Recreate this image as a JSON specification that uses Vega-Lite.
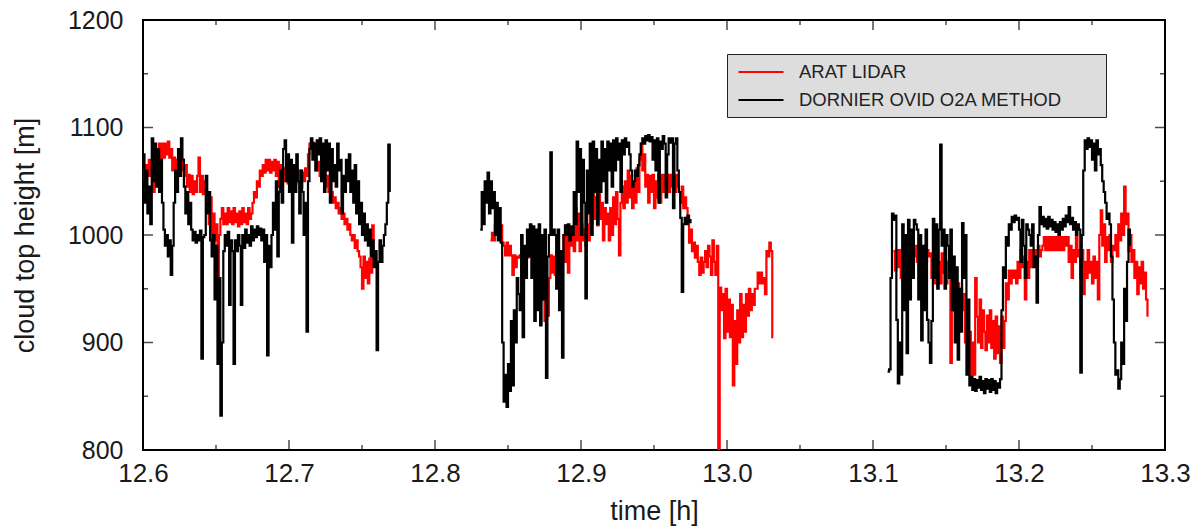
{
"$schema":"https://vega.github.io/schema/vega-lite/v6.json",
"width":1022,"height":430,"autosize":"none",
"padding":{"left":143,"top":20,"right":29,"bottom":77},
"background":"white",
"config":{"view":{"stroke":"#000","strokeWidth":2},"font":"Liberation Sans",
"axis":{"labelFont":"Liberation Sans","titleFont":"Liberation Sans","labelColor":"#1a1a1a","titleColor":"#1a1a1a","titleFontWeight":"normal","domain":false,"ticks":false,"grid":false,"labelFlush":false,"labelOverlap":false},
"axisX":{"labelFontSize":26,"labelPadding":10,"titleFontSize":27,"titlePadding":12},
"axisY":{"labelFontSize":25,"labelPadding":20,"titleFontSize":27,"titlePadding":28}},
"datasets":{
"red":[
{"t":12.600,"h":1060,"g":1},{"t":12.601,"h":1050,"g":1},{"t":12.602,"h":1065,"g":1},{"t":12.603,"h":1055,"g":1},{"t":12.604,"h":1070,"g":1},{"t":12.605,"h":1055,"g":1},{"t":12.606,"h":1065,"g":1},{"t":12.607,"h":1040,"g":1},{"t":12.608,"h":1060,"g":1},{"t":12.609,"h":1055,"g":1},{"t":12.610,"h":1075,"g":1},{"t":12.611,"h":1085,"g":1},{"t":12.612,"h":1070,"g":1},{"t":12.613,"h":1085,"g":1},{"t":12.614,"h":1072,"g":1},{"t":12.615,"h":1085,"g":1},{"t":12.616,"h":1075,"g":1},{"t":12.617,"h":1087,"g":1},{"t":12.618,"h":1072,"g":1},{"t":12.619,"h":1080,"g":1},{"t":12.620,"h":1060,"g":1},{"t":12.621,"h":1072,"g":1},{"t":12.622,"h":1056,"g":1},{"t":12.623,"h":1070,"g":1},{"t":12.624,"h":1058,"g":1},{"t":12.625,"h":1072,"g":1},{"t":12.626,"h":1060,"g":1},{"t":12.627,"h":1070,"g":1},{"t":12.628,"h":1055,"g":1},{"t":12.629,"h":1065,"g":1},{"t":12.630,"h":1045,"g":1},{"t":12.631,"h":1056,"g":1},{"t":12.632,"h":1040,"g":1},{"t":12.633,"h":1055,"g":1},{"t":12.634,"h":1038,"g":1},{"t":12.635,"h":1050,"g":1},{"t":12.636,"h":1040,"g":1},{"t":12.637,"h":1055,"g":1},{"t":12.638,"h":1072,"g":1},{"t":12.639,"h":1040,"g":1},{"t":12.640,"h":1055,"g":1},{"t":12.641,"h":1038,"g":1},{"t":12.642,"h":1050,"g":1},{"t":12.643,"h":1040,"g":1},{"t":12.644,"h":1030,"g":1},{"t":12.645,"h":1010,"g":1},{"t":12.646,"h":1035,"g":1},{"t":12.647,"h":995,"g":1},{"t":12.648,"h":1020,"g":1},{"t":12.649,"h":995,"g":1},{"t":12.650,"h":1010,"g":1},{"t":12.651,"h":950,"g":1},{"t":12.652,"h":1000,"g":1},{"t":12.653,"h":1015,"g":1},{"t":12.654,"h":1025,"g":1},{"t":12.655,"h":1010,"g":1},{"t":12.656,"h":1020,"g":1},{"t":12.657,"h":1010,"g":1},{"t":12.658,"h":1025,"g":1},{"t":12.659,"h":1012,"g":1},{"t":12.660,"h":1022,"g":1},{"t":12.661,"h":1010,"g":1},{"t":12.662,"h":1025,"g":1},{"t":12.663,"h":1012,"g":1},{"t":12.664,"h":1020,"g":1},{"t":12.665,"h":1008,"g":1},{"t":12.666,"h":1022,"g":1},{"t":12.667,"h":1010,"g":1},{"t":12.668,"h":1025,"g":1},{"t":12.669,"h":1012,"g":1},{"t":12.670,"h":1020,"g":1},{"t":12.671,"h":1010,"g":1},{"t":12.672,"h":1025,"g":1},{"t":12.673,"h":1015,"g":1},{"t":12.674,"h":1020,"g":1},{"t":12.675,"h":1030,"g":1},{"t":12.676,"h":1040,"g":1},{"t":12.677,"h":1035,"g":1},{"t":12.678,"h":1050,"g":1},{"t":12.679,"h":1045,"g":1},{"t":12.680,"h":1060,"g":1},{"t":12.681,"h":1055,"g":1},{"t":12.682,"h":1065,"g":1},{"t":12.683,"h":1058,"g":1},{"t":12.684,"h":1070,"g":1},{"t":12.685,"h":1060,"g":1},{"t":12.686,"h":1070,"g":1},{"t":12.687,"h":1058,"g":1},{"t":12.688,"h":1068,"g":1},{"t":12.689,"h":1060,"g":1},{"t":12.690,"h":1070,"g":1},{"t":12.691,"h":1055,"g":1},{"t":12.692,"h":1068,"g":1},{"t":12.693,"h":1045,"g":1},{"t":12.694,"h":1065,"g":1},{"t":12.695,"h":1055,"g":1},{"t":12.696,"h":1062,"g":1},{"t":12.697,"h":1050,"g":1},{"t":12.698,"h":1060,"g":1},{"t":12.699,"h":1048,"g":1},{"t":12.700,"h":1062,"g":1},{"t":12.701,"h":1055,"g":1},{"t":12.702,"h":1050,"g":1},{"t":12.703,"h":1062,"g":1},{"t":12.704,"h":1048,"g":1},{"t":12.705,"h":1060,"g":1},{"t":12.706,"h":1052,"g":1},{"t":12.707,"h":1060,"g":1},{"t":12.708,"h":1045,"g":1},{"t":12.709,"h":1058,"g":1},{"t":12.710,"h":1050,"g":1},{"t":12.711,"h":1062,"g":1},{"t":12.712,"h":1055,"g":1},{"t":12.713,"h":1075,"g":1},{"t":12.714,"h":1085,"g":1},{"t":12.715,"h":1080,"g":1},{"t":12.716,"h":1086,"g":1},{"t":12.717,"h":1075,"g":1},{"t":12.718,"h":1070,"g":1},{"t":12.719,"h":1060,"g":1},{"t":12.720,"h":1068,"g":1},{"t":12.721,"h":1055,"g":1},{"t":12.722,"h":1065,"g":1},{"t":12.723,"h":1050,"g":1},{"t":12.724,"h":1060,"g":1},{"t":12.725,"h":1045,"g":1},{"t":12.726,"h":1055,"g":1},{"t":12.727,"h":1040,"g":1},{"t":12.728,"h":1048,"g":1},{"t":12.729,"h":1040,"g":1},{"t":12.730,"h":1030,"g":1},{"t":12.731,"h":1035,"g":1},{"t":12.732,"h":1025,"g":1},{"t":12.733,"h":1030,"g":1},{"t":12.734,"h":1020,"g":1},{"t":12.735,"h":1025,"g":1},{"t":12.736,"h":1015,"g":1},{"t":12.737,"h":1020,"g":1},{"t":12.738,"h":1010,"g":1},{"t":12.739,"h":1015,"g":1},{"t":12.740,"h":1005,"g":1},{"t":12.741,"h":1010,"g":1},{"t":12.742,"h":1000,"g":1},{"t":12.743,"h":995,"g":1},{"t":12.744,"h":1000,"g":1},{"t":12.745,"h":988,"g":1},{"t":12.746,"h":995,"g":1},{"t":12.747,"h":985,"g":1},{"t":12.748,"h":980,"g":1},{"t":12.749,"h":970,"g":1},{"t":12.750,"h":950,"g":1},{"t":12.751,"h":980,"g":1},{"t":12.752,"h":960,"g":1},{"t":12.753,"h":975,"g":1},{"t":12.754,"h":955,"g":1},{"t":12.755,"h":978,"g":1},{"t":12.756,"h":965,"g":1},{"t":12.757,"h":1009,"g":1},{"t":12.758,"h":975,"g":1},
{"t":12.838,"h":995,"g":2},{"t":12.839,"h":1002,"g":2},{"t":12.840,"h":995,"g":2},{"t":12.841,"h":1009,"g":2},{"t":12.842,"h":1000,"g":2},{"t":12.843,"h":1009,"g":2},{"t":12.844,"h":1002,"g":2},{"t":12.845,"h":1009,"g":2},{"t":12.846,"h":993,"g":2},{"t":12.847,"h":990,"g":2},{"t":12.848,"h":981,"g":2},{"t":12.849,"h":993,"g":2},{"t":12.850,"h":981,"g":2},{"t":12.851,"h":990,"g":2},{"t":12.852,"h":981,"g":2},{"t":12.853,"h":963,"g":2},{"t":12.854,"h":981,"g":2},{"t":12.855,"h":970,"g":2},{"t":12.856,"h":980,"g":2},{"t":12.857,"h":979,"g":2},{"t":12.858,"h":981,"g":2},{"t":12.859,"h":979,"g":2},{"t":12.860,"h":981,"g":2},{"t":12.861,"h":979,"g":2},{"t":12.862,"h":981,"g":2},{"t":12.863,"h":979,"g":2},{"t":12.864,"h":985,"g":2},{"t":12.865,"h":993,"g":2},{"t":12.866,"h":990,"g":2},{"t":12.867,"h":993,"g":2},{"t":12.868,"h":980,"g":2},{"t":12.869,"h":993,"g":2},{"t":12.870,"h":985,"g":2},{"t":12.871,"h":990,"g":2},{"t":12.872,"h":960,"g":2},{"t":12.873,"h":940,"g":2},{"t":12.874,"h":953,"g":2},{"t":12.875,"h":920,"g":2},{"t":12.876,"h":950,"g":2},{"t":12.877,"h":925,"g":2},{"t":12.878,"h":960,"g":2},{"t":12.879,"h":981,"g":2},{"t":12.880,"h":965,"g":2},{"t":12.881,"h":980,"g":2},{"t":12.882,"h":963,"g":2},{"t":12.883,"h":981,"g":2},{"t":12.884,"h":970,"g":2},{"t":12.885,"h":981,"g":2},{"t":12.886,"h":965,"g":2},{"t":12.887,"h":980,"g":2},{"t":12.888,"h":1000,"g":2},{"t":12.889,"h":975,"g":2},{"t":12.890,"h":1009,"g":2},{"t":12.891,"h":965,"g":2},{"t":12.892,"h":1005,"g":2},{"t":12.893,"h":990,"g":2},{"t":12.894,"h":1000,"g":2},{"t":12.895,"h":985,"g":2},{"t":12.896,"h":1025,"g":2},{"t":12.897,"h":995,"g":2},{"t":12.898,"h":1020,"g":2},{"t":12.899,"h":985,"g":2},{"t":12.900,"h":1010,"g":2},{"t":12.901,"h":995,"g":2},{"t":12.902,"h":1005,"g":2},{"t":12.903,"h":990,"g":2},{"t":12.904,"h":1010,"g":2},{"t":12.905,"h":995,"g":2},{"t":12.906,"h":1030,"g":2},{"t":12.907,"h":1010,"g":2},{"t":12.908,"h":1040,"g":2},{"t":12.909,"h":1015,"g":2},{"t":12.910,"h":1035,"g":2},{"t":12.911,"h":1009,"g":2},{"t":12.912,"h":1040,"g":2},{"t":12.913,"h":1015,"g":2},{"t":12.914,"h":1030,"g":2},{"t":12.915,"h":995,"g":2},{"t":12.916,"h":1025,"g":2},{"t":12.917,"h":1010,"g":2},{"t":12.918,"h":1020,"g":2},{"t":12.919,"h":995,"g":2},{"t":12.920,"h":1025,"g":2},{"t":12.921,"h":1000,"g":2},{"t":12.922,"h":1035,"g":2},{"t":12.923,"h":1010,"g":2},{"t":12.924,"h":1040,"g":2},{"t":12.925,"h":1015,"g":2},{"t":12.926,"h":981,"g":2},{"t":12.927,"h":1030,"g":2},{"t":12.928,"h":1045,"g":2},{"t":12.929,"h":1025,"g":2},{"t":12.930,"h":1050,"g":2},{"t":12.931,"h":1030,"g":2},{"t":12.932,"h":1060,"g":2},{"t":12.933,"h":1035,"g":2},{"t":12.934,"h":1055,"g":2},{"t":12.935,"h":1025,"g":2},{"t":12.936,"h":1050,"g":2},{"t":12.937,"h":1030,"g":2},{"t":12.938,"h":1062,"g":2},{"t":12.939,"h":1040,"g":2},{"t":12.940,"h":1070,"g":2},{"t":12.941,"h":1085,"g":2},{"t":12.942,"h":1060,"g":2},{"t":12.943,"h":1075,"g":2},{"t":12.944,"h":1045,"g":2},{"t":12.945,"h":1056,"g":2},{"t":12.946,"h":1030,"g":2},{"t":12.947,"h":1055,"g":2},{"t":12.948,"h":1040,"g":2},{"t":12.949,"h":1056,"g":2},{"t":12.950,"h":1025,"g":2},{"t":12.951,"h":1050,"g":2},{"t":12.952,"h":1035,"g":2},{"t":12.953,"h":1056,"g":2},{"t":12.954,"h":1030,"g":2},{"t":12.955,"h":1056,"g":2},{"t":12.956,"h":1040,"g":2},{"t":12.957,"h":1056,"g":2},{"t":12.958,"h":1045,"g":2},{"t":12.959,"h":1056,"g":2},{"t":12.960,"h":1040,"g":2},{"t":12.961,"h":1056,"g":2},{"t":12.962,"h":1045,"g":2},{"t":12.963,"h":1056,"g":2},{"t":12.964,"h":1040,"g":2},{"t":12.965,"h":1056,"g":2},{"t":12.966,"h":1045,"g":2},{"t":12.967,"h":1040,"g":2},{"t":12.968,"h":1030,"g":2},{"t":12.969,"h":1045,"g":2},{"t":12.970,"h":1025,"g":2},{"t":12.971,"h":1035,"g":2},{"t":12.972,"h":1025,"g":2},{"t":12.973,"h":1012,"g":2},{"t":12.974,"h":993,"g":2},{"t":12.975,"h":1005,"g":2},{"t":12.976,"h":985,"g":2},{"t":12.977,"h":993,"g":2},{"t":12.978,"h":979,"g":2},{"t":12.979,"h":990,"g":2},{"t":12.980,"h":975,"g":2},{"t":12.981,"h":963,"g":2},{"t":12.982,"h":979,"g":2},{"t":12.983,"h":965,"g":2},{"t":12.984,"h":975,"g":2},{"t":12.985,"h":985,"g":2},{"t":12.986,"h":970,"g":2},{"t":12.987,"h":990,"g":2},{"t":12.988,"h":980,"g":2},{"t":12.989,"h":963,"g":2},{"t":12.990,"h":995,"g":2},{"t":12.991,"h":975,"g":2},{"t":12.992,"h":963,"g":2},{"t":12.993,"h":990,"g":2},{"t":12.994,"h":800,"g":2},{"t":12.995,"h":951,"g":2},{"t":12.996,"h":930,"g":2},{"t":12.997,"h":945,"g":2},{"t":12.998,"h":904,"g":2},{"t":12.999,"h":950,"g":2},{"t":13.000,"h":910,"g":2},{"t":13.001,"h":940,"g":2},{"t":13.002,"h":905,"g":2},{"t":13.003,"h":935,"g":2},{"t":13.004,"h":860,"g":2},{"t":13.005,"h":920,"g":2},{"t":13.006,"h":880,"g":2},{"t":13.007,"h":930,"g":2},{"t":13.008,"h":900,"g":2},{"t":13.009,"h":945,"g":2},{"t":13.010,"h":905,"g":2},{"t":13.011,"h":935,"g":2},{"t":13.012,"h":910,"g":2},{"t":13.013,"h":945,"g":2},{"t":13.014,"h":925,"g":2},{"t":13.015,"h":950,"g":2},{"t":13.016,"h":930,"g":2},{"t":13.017,"h":945,"g":2},{"t":13.018,"h":935,"g":2},{"t":13.019,"h":950,"g":2},{"t":13.020,"h":950,"g":2},{"t":13.021,"h":965,"g":2},{"t":13.022,"h":955,"g":2},{"t":13.023,"h":965,"g":2},{"t":13.024,"h":955,"g":2},{"t":13.025,"h":960,"g":2},{"t":13.026,"h":945,"g":2},{"t":13.027,"h":985,"g":2},{"t":13.028,"h":980,"g":2},{"t":13.029,"h":993,"g":2},{"t":13.030,"h":985,"g":2},{"t":13.031,"h":904,"g":2},
{"t":13.114,"h":985,"g":3},{"t":13.115,"h":967,"g":3},{"t":13.116,"h":986,"g":3},{"t":13.117,"h":970,"g":3},{"t":13.118,"h":986,"g":3},{"t":13.119,"h":960,"g":3},{"t":13.120,"h":980,"g":3},{"t":13.121,"h":955,"g":3},{"t":13.122,"h":990,"g":3},{"t":13.123,"h":970,"g":3},{"t":13.124,"h":986,"g":3},{"t":13.125,"h":995,"g":3},{"t":13.126,"h":986,"g":3},{"t":13.127,"h":993,"g":3},{"t":13.128,"h":980,"g":3},{"t":13.129,"h":990,"g":3},{"t":13.130,"h":975,"g":3},{"t":13.131,"h":990,"g":3},{"t":13.132,"h":965,"g":3},{"t":13.133,"h":986,"g":3},{"t":13.134,"h":955,"g":3},{"t":13.135,"h":990,"g":3},{"t":13.136,"h":975,"g":3},{"t":13.137,"h":986,"g":3},{"t":13.138,"h":980,"g":3},{"t":13.139,"h":983,"g":3},{"t":13.140,"h":960,"g":3},{"t":13.141,"h":980,"g":3},{"t":13.142,"h":955,"g":3},{"t":13.143,"h":983,"g":3},{"t":13.144,"h":960,"g":3},{"t":13.145,"h":975,"g":3},{"t":13.146,"h":955,"g":3},{"t":13.147,"h":983,"g":3},{"t":13.148,"h":965,"g":3},{"t":13.149,"h":980,"g":3},{"t":13.150,"h":955,"g":3},{"t":13.151,"h":975,"g":3},{"t":13.152,"h":960,"g":3},{"t":13.153,"h":881,"g":3},{"t":13.154,"h":950,"g":3},{"t":13.155,"h":930,"g":3},{"t":13.156,"h":960,"g":3},{"t":13.157,"h":925,"g":3},{"t":13.158,"h":955,"g":3},{"t":13.159,"h":940,"g":3},{"t":13.160,"h":950,"g":3},{"t":13.161,"h":930,"g":3},{"t":13.162,"h":945,"g":3},{"t":13.163,"h":900,"g":3},{"t":13.164,"h":924,"g":3},{"t":13.165,"h":880,"g":3},{"t":13.166,"h":910,"g":3},{"t":13.167,"h":865,"g":3},{"t":13.168,"h":900,"g":3},{"t":13.169,"h":870,"g":3},{"t":13.170,"h":960,"g":3},{"t":13.171,"h":924,"g":3},{"t":13.172,"h":900,"g":3},{"t":13.173,"h":940,"g":3},{"t":13.174,"h":895,"g":3},{"t":13.175,"h":930,"g":3},{"t":13.176,"h":910,"g":3},{"t":13.177,"h":893,"g":3},{"t":13.178,"h":925,"g":3},{"t":13.179,"h":900,"g":3},{"t":13.180,"h":930,"g":3},{"t":13.181,"h":895,"g":3},{"t":13.182,"h":920,"g":3},{"t":13.183,"h":885,"g":3},{"t":13.184,"h":924,"g":3},{"t":13.185,"h":890,"g":3},{"t":13.186,"h":915,"g":3},{"t":13.187,"h":881,"g":3},{"t":13.188,"h":924,"g":3},{"t":13.189,"h":895,"g":3},{"t":13.190,"h":920,"g":3},{"t":13.191,"h":955,"g":3},{"t":13.192,"h":940,"g":3},{"t":13.193,"h":967,"g":3},{"t":13.194,"h":955,"g":3},{"t":13.195,"h":967,"g":3},{"t":13.196,"h":960,"g":3},{"t":13.197,"h":967,"g":3},{"t":13.198,"h":955,"g":3},{"t":13.199,"h":975,"g":3},{"t":13.200,"h":960,"g":3},{"t":13.201,"h":986,"g":3},{"t":13.202,"h":970,"g":3},{"t":13.203,"h":980,"g":3},{"t":13.204,"h":940,"g":3},{"t":13.205,"h":975,"g":3},{"t":13.206,"h":960,"g":3},{"t":13.207,"h":986,"g":3},{"t":13.208,"h":970,"g":3},{"t":13.209,"h":986,"g":3},{"t":13.210,"h":975,"g":3},{"t":13.211,"h":986,"g":3},{"t":13.212,"h":975,"g":3},{"t":13.213,"h":990,"g":3},{"t":13.214,"h":980,"g":3},{"t":13.215,"h":986,"g":3},{"t":13.216,"h":990,"g":3},{"t":13.217,"h":998,"g":3},{"t":13.218,"h":986,"g":3},{"t":13.219,"h":998,"g":3},{"t":13.220,"h":986,"g":3},{"t":13.221,"h":998,"g":3},{"t":13.222,"h":986,"g":3},{"t":13.223,"h":998,"g":3},{"t":13.224,"h":986,"g":3},{"t":13.225,"h":998,"g":3},{"t":13.226,"h":986,"g":3},{"t":13.227,"h":998,"g":3},{"t":13.228,"h":986,"g":3},{"t":13.229,"h":998,"g":3},{"t":13.230,"h":986,"g":3},{"t":13.231,"h":998,"g":3},{"t":13.232,"h":990,"g":3},{"t":13.233,"h":998,"g":3},{"t":13.234,"h":975,"g":3},{"t":13.235,"h":990,"g":3},{"t":13.236,"h":960,"g":3},{"t":13.237,"h":986,"g":3},{"t":13.238,"h":975,"g":3},{"t":13.239,"h":998,"g":3},{"t":13.240,"h":980,"g":3},{"t":13.241,"h":986,"g":3},{"t":13.242,"h":960,"g":3},{"t":13.243,"h":986,"g":3},{"t":13.244,"h":945,"g":3},{"t":13.245,"h":975,"g":3},{"t":13.246,"h":960,"g":3},{"t":13.247,"h":986,"g":3},{"t":13.248,"h":965,"g":3},{"t":13.249,"h":975,"g":3},{"t":13.250,"h":955,"g":3},{"t":13.251,"h":980,"g":3},{"t":13.252,"h":960,"g":3},{"t":13.253,"h":975,"g":3},{"t":13.254,"h":940,"g":3},{"t":13.255,"h":1000,"g":3},{"t":13.256,"h":1023,"g":3},{"t":13.257,"h":990,"g":3},{"t":13.258,"h":1010,"g":3},{"t":13.259,"h":975,"g":3},{"t":13.260,"h":998,"g":3},{"t":13.261,"h":986,"g":3},{"t":13.262,"h":1000,"g":3},{"t":13.263,"h":975,"g":3},{"t":13.264,"h":990,"g":3},{"t":13.265,"h":986,"g":3},{"t":13.266,"h":1000,"g":3},{"t":13.267,"h":980,"g":3},{"t":13.268,"h":1010,"g":3},{"t":13.269,"h":995,"g":3},{"t":13.270,"h":1020,"g":3},{"t":13.271,"h":1000,"g":3},{"t":13.272,"h":1045,"g":3},{"t":13.273,"h":1010,"g":3},{"t":13.274,"h":1020,"g":3},{"t":13.275,"h":985,"g":3},{"t":13.276,"h":1000,"g":3},{"t":13.277,"h":975,"g":3},{"t":13.278,"h":986,"g":3},{"t":13.279,"h":960,"g":3},{"t":13.280,"h":975,"g":3},{"t":13.281,"h":945,"g":3},{"t":13.282,"h":970,"g":3},{"t":13.283,"h":955,"g":3},{"t":13.284,"h":975,"g":3},{"t":13.285,"h":950,"g":3},{"t":13.286,"h":965,"g":3},{"t":13.287,"h":940,"g":3},{"t":13.288,"h":924,"g":3}
],
"black":[
{"t":12.600,"h":1075,"g":1},{"t":12.601,"h":1030,"g":1},{"t":12.602,"h":1060,"g":1},{"t":12.603,"h":1020,"g":1},{"t":12.604,"h":1045,"g":1},{"t":12.605,"h":1010,"g":1},{"t":12.606,"h":1090,"g":1},{"t":12.607,"h":1050,"g":1},{"t":12.608,"h":1085,"g":1},{"t":12.609,"h":1045,"g":1},{"t":12.610,"h":1080,"g":1},{"t":12.611,"h":1040,"g":1},{"t":12.612,"h":1070,"g":1},{"t":12.613,"h":1030,"g":1},{"t":12.614,"h":1005,"g":1},{"t":12.615,"h":990,"g":1},{"t":12.616,"h":1000,"g":1},{"t":12.617,"h":980,"g":1},{"t":12.618,"h":995,"g":1},{"t":12.619,"h":963,"g":1},{"t":12.620,"h":990,"g":1},{"t":12.621,"h":1030,"g":1},{"t":12.622,"h":1060,"g":1},{"t":12.623,"h":1040,"g":1},{"t":12.624,"h":1080,"g":1},{"t":12.625,"h":1055,"g":1},{"t":12.626,"h":1090,"g":1},{"t":12.627,"h":1070,"g":1},{"t":12.628,"h":1045,"g":1},{"t":12.629,"h":1020,"g":1},{"t":12.630,"h":1040,"g":1},{"t":12.631,"h":1010,"g":1},{"t":12.632,"h":1030,"g":1},{"t":12.633,"h":1005,"g":1},{"t":12.634,"h":995,"g":1},{"t":12.635,"h":1003,"g":1},{"t":12.636,"h":993,"g":1},{"t":12.637,"h":1000,"g":1},{"t":12.638,"h":995,"g":1},{"t":12.639,"h":1004,"g":1},{"t":12.640,"h":885,"g":1},{"t":12.641,"h":998,"g":1},{"t":12.642,"h":1000,"g":1},{"t":12.643,"h":1055,"g":1},{"t":12.644,"h":1020,"g":1},{"t":12.645,"h":1040,"g":1},{"t":12.646,"h":995,"g":1},{"t":12.647,"h":980,"g":1},{"t":12.648,"h":1000,"g":1},{"t":12.649,"h":940,"g":1},{"t":12.650,"h":990,"g":1},{"t":12.651,"h":880,"g":1},{"t":12.652,"h":960,"g":1},{"t":12.653,"h":832,"g":1},{"t":12.654,"h":900,"g":1},{"t":12.655,"h":985,"g":1},{"t":12.656,"h":1000,"g":1},{"t":12.657,"h":990,"g":1},{"t":12.658,"h":1003,"g":1},{"t":12.659,"h":935,"g":1},{"t":12.660,"h":995,"g":1},{"t":12.661,"h":985,"g":1},{"t":12.662,"h":880,"g":1},{"t":12.663,"h":995,"g":1},{"t":12.664,"h":985,"g":1},{"t":12.665,"h":1000,"g":1},{"t":12.666,"h":990,"g":1},{"t":12.667,"h":935,"g":1},{"t":12.668,"h":1000,"g":1},{"t":12.669,"h":988,"g":1},{"t":12.670,"h":1005,"g":1},{"t":12.671,"h":993,"g":1},{"t":12.672,"h":1000,"g":1},{"t":12.673,"h":990,"g":1},{"t":12.674,"h":1008,"g":1},{"t":12.675,"h":995,"g":1},{"t":12.676,"h":1005,"g":1},{"t":12.677,"h":998,"g":1},{"t":12.678,"h":1008,"g":1},{"t":12.679,"h":1000,"g":1},{"t":12.680,"h":1006,"g":1},{"t":12.681,"h":995,"g":1},{"t":12.682,"h":1005,"g":1},{"t":12.683,"h":975,"g":1},{"t":12.684,"h":1000,"g":1},{"t":12.685,"h":888,"g":1},{"t":12.686,"h":990,"g":1},{"t":12.687,"h":970,"g":1},{"t":12.688,"h":1000,"g":1},{"t":12.689,"h":1030,"g":1},{"t":12.690,"h":1005,"g":1},{"t":12.691,"h":1050,"g":1},{"t":12.692,"h":980,"g":1},{"t":12.693,"h":1040,"g":1},{"t":12.694,"h":1060,"g":1},{"t":12.695,"h":1030,"g":1},{"t":12.696,"h":1080,"g":1},{"t":12.697,"h":1088,"g":1},{"t":12.698,"h":1050,"g":1},{"t":12.699,"h":1075,"g":1},{"t":12.700,"h":1040,"g":1},{"t":12.701,"h":1070,"g":1},{"t":12.702,"h":993,"g":1},{"t":12.703,"h":1065,"g":1},{"t":12.704,"h":1040,"g":1},{"t":12.705,"h":1075,"g":1},{"t":12.706,"h":1050,"g":1},{"t":12.707,"h":1020,"g":1},{"t":12.708,"h":1060,"g":1},{"t":12.709,"h":1040,"g":1},{"t":12.710,"h":1000,"g":1},{"t":12.711,"h":1030,"g":1},{"t":12.712,"h":910,"g":1},{"t":12.713,"h":1050,"g":1},{"t":12.714,"h":1080,"g":1},{"t":12.715,"h":1090,"g":1},{"t":12.716,"h":1070,"g":1},{"t":12.717,"h":1085,"g":1},{"t":12.718,"h":1060,"g":1},{"t":12.719,"h":1088,"g":1},{"t":12.720,"h":1075,"g":1},{"t":12.721,"h":1090,"g":1},{"t":12.722,"h":1050,"g":1},{"t":12.723,"h":1085,"g":1},{"t":12.724,"h":1040,"g":1},{"t":12.725,"h":1088,"g":1},{"t":12.726,"h":1060,"g":1},{"t":12.727,"h":1085,"g":1},{"t":12.728,"h":1030,"g":1},{"t":12.729,"h":1080,"g":1},{"t":12.730,"h":1050,"g":1},{"t":12.731,"h":1065,"g":1},{"t":12.732,"h":1045,"g":1},{"t":12.733,"h":1085,"g":1},{"t":12.734,"h":1060,"g":1},{"t":12.735,"h":1070,"g":1},{"t":12.736,"h":1020,"g":1},{"t":12.737,"h":1055,"g":1},{"t":12.738,"h":1040,"g":1},{"t":12.739,"h":1070,"g":1},{"t":12.740,"h":1050,"g":1},{"t":12.741,"h":1075,"g":1},{"t":12.742,"h":1040,"g":1},{"t":12.743,"h":1060,"g":1},{"t":12.744,"h":1030,"g":1},{"t":12.745,"h":1065,"g":1},{"t":12.746,"h":1020,"g":1},{"t":12.747,"h":1050,"g":1},{"t":12.748,"h":1010,"g":1},{"t":12.749,"h":1030,"g":1},{"t":12.750,"h":1000,"g":1},{"t":12.751,"h":1020,"g":1},{"t":12.752,"h":995,"g":1},{"t":12.753,"h":1010,"g":1},{"t":12.754,"h":990,"g":1},{"t":12.755,"h":1005,"g":1},{"t":12.756,"h":980,"g":1},{"t":12.757,"h":995,"g":1},{"t":12.758,"h":970,"g":1},{"t":12.759,"h":985,"g":1},{"t":12.760,"h":893,"g":1},{"t":12.761,"h":975,"g":1},{"t":12.762,"h":995,"g":1},{"t":12.763,"h":975,"g":1},{"t":12.764,"h":990,"g":1},{"t":12.765,"h":1000,"g":1},{"t":12.766,"h":1010,"g":1},{"t":12.767,"h":1030,"g":1},{"t":12.768,"h":1084,"g":1},{"t":12.769,"h":1040,"g":1},
{"t":12.831,"h":1005,"g":2},{"t":12.832,"h":1040,"g":2},{"t":12.833,"h":1010,"g":2},{"t":12.834,"h":1050,"g":2},{"t":12.835,"h":1030,"g":2},{"t":12.836,"h":1058,"g":2},{"t":12.837,"h":1020,"g":2},{"t":12.838,"h":1050,"g":2},{"t":12.839,"h":1025,"g":2},{"t":12.840,"h":1040,"g":2},{"t":12.841,"h":1000,"g":2},{"t":12.842,"h":1030,"g":2},{"t":12.843,"h":995,"g":2},{"t":12.844,"h":1025,"g":2},{"t":12.845,"h":993,"g":2},{"t":12.846,"h":900,"g":2},{"t":12.847,"h":845,"g":2},{"t":12.848,"h":870,"g":2},{"t":12.849,"h":840,"g":2},{"t":12.850,"h":880,"g":2},{"t":12.851,"h":855,"g":2},{"t":12.852,"h":920,"g":2},{"t":12.853,"h":860,"g":2},{"t":12.854,"h":930,"g":2},{"t":12.855,"h":900,"g":2},{"t":12.856,"h":960,"g":2},{"t":12.857,"h":945,"g":2},{"t":12.858,"h":930,"g":2},{"t":12.859,"h":1000,"g":2},{"t":12.860,"h":905,"g":2},{"t":12.861,"h":990,"g":2},{"t":12.862,"h":960,"g":2},{"t":12.863,"h":1005,"g":2},{"t":12.864,"h":980,"g":2},{"t":12.865,"h":1010,"g":2},{"t":12.866,"h":960,"g":2},{"t":12.867,"h":1008,"g":2},{"t":12.868,"h":920,"g":2},{"t":12.869,"h":1005,"g":2},{"t":12.870,"h":930,"g":2},{"t":12.871,"h":1010,"g":2},{"t":12.872,"h":916,"g":2},{"t":12.873,"h":1000,"g":2},{"t":12.874,"h":940,"g":2},{"t":12.875,"h":1005,"g":2},{"t":12.876,"h":867,"g":2},{"t":12.877,"h":980,"g":2},{"t":12.878,"h":1000,"g":2},{"t":12.879,"h":1077,"g":2},{"t":12.880,"h":1000,"g":2},{"t":12.881,"h":1005,"g":2},{"t":12.882,"h":1000,"g":2},{"t":12.883,"h":950,"g":2},{"t":12.884,"h":1005,"g":2},{"t":12.885,"h":930,"g":2},{"t":12.886,"h":985,"g":2},{"t":12.887,"h":886,"g":2},{"t":12.888,"h":1000,"g":2},{"t":12.889,"h":1009,"g":2},{"t":12.890,"h":1000,"g":2},{"t":12.891,"h":1010,"g":2},{"t":12.892,"h":995,"g":2},{"t":12.893,"h":1008,"g":2},{"t":12.894,"h":1000,"g":2},{"t":12.895,"h":1040,"g":2},{"t":12.896,"h":1010,"g":2},{"t":12.897,"h":1087,"g":2},{"t":12.898,"h":1040,"g":2},{"t":12.899,"h":1080,"g":2},{"t":12.900,"h":1000,"g":2},{"t":12.901,"h":1070,"g":2},{"t":12.902,"h":1030,"g":2},{"t":12.903,"h":941,"g":2},{"t":12.904,"h":1060,"g":2},{"t":12.905,"h":1020,"g":2},{"t":12.906,"h":1085,"g":2},{"t":12.907,"h":1000,"g":2},{"t":12.908,"h":1087,"g":2},{"t":12.909,"h":1040,"g":2},{"t":12.910,"h":1080,"g":2},{"t":12.911,"h":1010,"g":2},{"t":12.912,"h":1070,"g":2},{"t":12.913,"h":1040,"g":2},{"t":12.914,"h":1087,"g":2},{"t":12.915,"h":1050,"g":2},{"t":12.916,"h":1080,"g":2},{"t":12.917,"h":1030,"g":2},{"t":12.918,"h":1087,"g":2},{"t":12.919,"h":1060,"g":2},{"t":12.920,"h":1085,"g":2},{"t":12.921,"h":1045,"g":2},{"t":12.922,"h":1088,"g":2},{"t":12.923,"h":1060,"g":2},{"t":12.924,"h":1090,"g":2},{"t":12.925,"h":1070,"g":2},{"t":12.926,"h":1085,"g":2},{"t":12.927,"h":1040,"g":2},{"t":12.928,"h":1088,"g":2},{"t":12.929,"h":1075,"g":2},{"t":12.930,"h":1090,"g":2},{"t":12.931,"h":1082,"g":2},{"t":12.932,"h":1086,"g":2},{"t":12.933,"h":1075,"g":2},{"t":12.934,"h":1060,"g":2},{"t":12.935,"h":1045,"g":2},{"t":12.936,"h":1050,"g":2},{"t":12.937,"h":1060,"g":2},{"t":12.938,"h":1055,"g":2},{"t":12.939,"h":1065,"g":2},{"t":12.940,"h":1075,"g":2},{"t":12.941,"h":1085,"g":2},{"t":12.942,"h":1090,"g":2},{"t":12.943,"h":1085,"g":2},{"t":12.944,"h":1092,"g":2},{"t":12.945,"h":1088,"g":2},{"t":12.946,"h":1093,"g":2},{"t":12.947,"h":1087,"g":2},{"t":12.948,"h":1091,"g":2},{"t":12.949,"h":1070,"g":2},{"t":12.950,"h":1088,"g":2},{"t":12.951,"h":1060,"g":2},{"t":12.952,"h":1090,"g":2},{"t":12.953,"h":1030,"g":2},{"t":12.954,"h":1087,"g":2},{"t":12.955,"h":1080,"g":2},{"t":12.956,"h":1092,"g":2},{"t":12.957,"h":1085,"g":2},{"t":12.958,"h":1035,"g":2},{"t":12.959,"h":1075,"g":2},{"t":12.960,"h":1090,"g":2},{"t":12.961,"h":1086,"g":2},{"t":12.962,"h":1090,"g":2},{"t":12.963,"h":1025,"g":2},{"t":12.964,"h":1085,"g":2},{"t":12.965,"h":1090,"g":2},{"t":12.966,"h":1060,"g":2},{"t":12.967,"h":1040,"g":2},{"t":12.968,"h":1016,"g":2},{"t":12.969,"h":947,"g":2},{"t":12.970,"h":1010,"g":2},{"t":12.971,"h":1016,"g":2},{"t":12.972,"h":1010,"g":2},{"t":12.973,"h":1018,"g":2},{"t":12.974,"h":1012,"g":2},{"t":12.975,"h":1015,"g":2},
{"t":13.110,"h":873,"g":3},{"t":13.111,"h":875,"g":3},{"t":13.112,"h":960,"g":3},{"t":13.113,"h":1020,"g":3},{"t":13.114,"h":1014,"g":3},{"t":13.115,"h":1018,"g":3},{"t":13.116,"h":921,"g":3},{"t":13.117,"h":862,"g":3},{"t":13.118,"h":900,"g":3},{"t":13.119,"h":870,"g":3},{"t":13.120,"h":1010,"g":3},{"t":13.121,"h":930,"g":3},{"t":13.122,"h":1000,"g":3},{"t":13.123,"h":890,"g":3},{"t":13.124,"h":1014,"g":3},{"t":13.125,"h":940,"g":3},{"t":13.126,"h":1005,"g":3},{"t":13.127,"h":960,"g":3},{"t":13.128,"h":1014,"g":3},{"t":13.129,"h":1010,"g":3},{"t":13.130,"h":1005,"g":3},{"t":13.131,"h":940,"g":3},{"t":13.132,"h":1000,"g":3},{"t":13.133,"h":902,"g":3},{"t":13.134,"h":990,"g":3},{"t":13.135,"h":930,"g":3},{"t":13.136,"h":1005,"g":3},{"t":13.137,"h":921,"g":3},{"t":13.138,"h":900,"g":3},{"t":13.139,"h":881,"g":3},{"t":13.140,"h":920,"g":3},{"t":13.141,"h":1015,"g":3},{"t":13.142,"h":960,"g":3},{"t":13.143,"h":1010,"g":3},{"t":13.144,"h":950,"g":3},{"t":13.145,"h":1005,"g":3},{"t":13.146,"h":1084,"g":3},{"t":13.147,"h":990,"g":3},{"t":13.148,"h":1005,"g":3},{"t":13.149,"h":950,"g":3},{"t":13.150,"h":1000,"g":3},{"t":13.151,"h":990,"g":3},{"t":13.152,"h":960,"g":3},{"t":13.153,"h":1005,"g":3},{"t":13.154,"h":930,"g":3},{"t":13.155,"h":980,"g":3},{"t":13.156,"h":900,"g":3},{"t":13.157,"h":970,"g":3},{"t":13.158,"h":884,"g":3},{"t":13.159,"h":950,"g":3},{"t":13.160,"h":910,"g":3},{"t":13.161,"h":1011,"g":3},{"t":13.162,"h":960,"g":3},{"t":13.163,"h":1000,"g":3},{"t":13.164,"h":870,"g":3},{"t":13.165,"h":940,"g":3},{"t":13.166,"h":860,"g":3},{"t":13.167,"h":868,"g":3},{"t":13.168,"h":856,"g":3},{"t":13.169,"h":866,"g":3},{"t":13.170,"h":855,"g":3},{"t":13.171,"h":865,"g":3},{"t":13.172,"h":858,"g":3},{"t":13.173,"h":868,"g":3},{"t":13.174,"h":856,"g":3},{"t":13.175,"h":864,"g":3},{"t":13.176,"h":853,"g":3},{"t":13.177,"h":866,"g":3},{"t":13.178,"h":857,"g":3},{"t":13.179,"h":865,"g":3},{"t":13.180,"h":854,"g":3},{"t":13.181,"h":866,"g":3},{"t":13.182,"h":856,"g":3},{"t":13.183,"h":864,"g":3},{"t":13.184,"h":853,"g":3},{"t":13.185,"h":862,"g":3},{"t":13.186,"h":858,"g":3},{"t":13.187,"h":866,"g":3},{"t":13.188,"h":930,"g":3},{"t":13.189,"h":970,"g":3},{"t":13.190,"h":960,"g":3},{"t":13.191,"h":998,"g":3},{"t":13.192,"h":990,"g":3},{"t":13.193,"h":1010,"g":3},{"t":13.194,"h":1005,"g":3},{"t":13.195,"h":1017,"g":3},{"t":13.196,"h":1012,"g":3},{"t":13.197,"h":1018,"g":3},{"t":13.198,"h":1014,"g":3},{"t":13.199,"h":1016,"g":3},{"t":13.200,"h":1005,"g":3},{"t":13.201,"h":975,"g":3},{"t":13.202,"h":1014,"g":3},{"t":13.203,"h":990,"g":3},{"t":13.204,"h":960,"g":3},{"t":13.205,"h":1010,"g":3},{"t":13.206,"h":1005,"g":3},{"t":13.207,"h":1000,"g":3},{"t":13.208,"h":990,"g":3},{"t":13.209,"h":1010,"g":3},{"t":13.210,"h":970,"g":3},{"t":13.211,"h":980,"g":3},{"t":13.212,"h":937,"g":3},{"t":13.213,"h":1000,"g":3},{"t":13.214,"h":1026,"g":3},{"t":13.215,"h":1010,"g":3},{"t":13.216,"h":1017,"g":3},{"t":13.217,"h":1008,"g":3},{"t":13.218,"h":1015,"g":3},{"t":13.219,"h":1006,"g":3},{"t":13.220,"h":1017,"g":3},{"t":13.221,"h":1008,"g":3},{"t":13.222,"h":1014,"g":3},{"t":13.223,"h":1005,"g":3},{"t":13.224,"h":1012,"g":3},{"t":13.225,"h":1003,"g":3},{"t":13.226,"h":1010,"g":3},{"t":13.227,"h":1000,"g":3},{"t":13.228,"h":1012,"g":3},{"t":13.229,"h":1005,"g":3},{"t":13.230,"h":1015,"g":3},{"t":13.231,"h":1008,"g":3},{"t":13.232,"h":1018,"g":3},{"t":13.233,"h":1012,"g":3},{"t":13.234,"h":1026,"g":3},{"t":13.235,"h":1010,"g":3},{"t":13.236,"h":1016,"g":3},{"t":13.237,"h":1005,"g":3},{"t":13.238,"h":1012,"g":3},{"t":13.239,"h":1000,"g":3},{"t":13.240,"h":1010,"g":3},{"t":13.241,"h":1005,"g":3},{"t":13.242,"h":872,"g":3},{"t":13.243,"h":1000,"g":3},{"t":13.244,"h":1060,"g":3},{"t":13.245,"h":1088,"g":3},{"t":13.246,"h":1080,"g":3},{"t":13.247,"h":1090,"g":3},{"t":13.248,"h":1082,"g":3},{"t":13.249,"h":1088,"g":3},{"t":13.250,"h":1070,"g":3},{"t":13.251,"h":1085,"g":3},{"t":13.252,"h":1060,"g":3},{"t":13.253,"h":1088,"g":3},{"t":13.254,"h":1075,"g":3},{"t":13.255,"h":1080,"g":3},{"t":13.256,"h":1065,"g":3},{"t":13.257,"h":1050,"g":3},{"t":13.258,"h":1040,"g":3},{"t":13.259,"h":1030,"g":3},{"t":13.260,"h":1015,"g":3},{"t":13.261,"h":1020,"g":3},{"t":13.262,"h":1010,"g":3},{"t":13.263,"h":980,"g":3},{"t":13.264,"h":940,"g":3},{"t":13.265,"h":900,"g":3},{"t":13.266,"h":870,"g":3},{"t":13.267,"h":874,"g":3},{"t":13.268,"h":857,"g":3},{"t":13.269,"h":866,"g":3},{"t":13.270,"h":900,"g":3},{"t":13.271,"h":880,"g":3},{"t":13.272,"h":950,"g":3},{"t":13.273,"h":920,"g":3},{"t":13.274,"h":975,"g":3},{"t":13.275,"h":1005,"g":3},{"t":13.276,"h":990,"g":3}
],
"xmajor":[{"v":12.6},{"v":12.7},{"v":12.8},{"v":12.9},{"v":13.0},{"v":13.1},{"v":13.2},{"v":13.3}],
"xminor":[{"v":12.65},{"v":12.75},{"v":12.85},{"v":12.95},{"v":13.05},{"v":13.15},{"v":13.25}],
"ymajor":[{"v":800},{"v":900},{"v":1000},{"v":1100},{"v":1200}],
"yminor":[{"v":850},{"v":950},{"v":1050},{"v":1150}]
},
"layer":[
{"data":{"name":"red"},
 "mark":{"type":"line","interpolate":"step-after","strokeWidth":2.2,"clip":true},
 "encoding":{
  "x":{"field":"t","type":"quantitative","scale":{"domain":[12.6,13.3],"nice":false,"zero":false},
       "axis":{"title":"time [h]","values":[12.6,12.7,12.8,12.9,13.0,13.1,13.2,13.3],"format":".1f"}},
  "y":{"field":"h","type":"quantitative","scale":{"domain":[800,1200],"nice":false,"zero":false},
       "axis":{"title":"cloud top height [m]","values":[800,900,1000,1100,1200],"format":"d"}},
  "detail":{"field":"g","type":"nominal"},
  "color":{"datum":"ARAT LIDAR","type":"nominal","scale":{"domain":["ARAT LIDAR","DORNIER OVID O2A METHOD"],"range":["#ff0000","#000000"]},
    "legend":{"title":null,"orient":"none","legendX":584,"legendY":34,"direction":"vertical","fillColor":"#dddddd","strokeColor":"#222222","padding":7,"symbolType":"M-2.25,0H2.25","symbolSize":400,"symbolStrokeWidth":1.8,"symbolOffset":16,"labelOffset":27,"rowPadding":7,"labelFont":"Liberation Sans","labelFontSize":18.5,"labelColor":"#222222","labelLimit":600,"labelExpr":"datum.label + '\u00a0\u00a0\u00a0\u00a0\u00a0\u00a0\u00a0\u200b'"}}
 }},
{"data":{"name":"black"},
 "mark":{"type":"line","interpolate":"step-after","strokeWidth":2.2,"clip":true},
 "encoding":{
  "x":{"field":"t","type":"quantitative","axis":{"title":"time [h]","values":[12.6,12.7,12.8,12.9,13.0,13.1,13.2,13.3],"format":".1f"}},
  "y":{"field":"h","type":"quantitative","axis":{"title":"cloud top height [m]","values":[800,900,1000,1100,1200],"format":"d"}},
  "detail":{"field":"g","type":"nominal"},
  "color":{"datum":"DORNIER OVID O2A METHOD","type":"nominal"}
 }},
{"data":{"name":"xmajor"},"mark":{"type":"tick","orient":"vertical","size":20,"thickness":1.5,"color":"#000","clip":true},
 "encoding":{"x":{"field":"v","type":"quantitative","axis":{"title":"time [h]","values":[12.6,12.7,12.8,12.9,13.0,13.1,13.2,13.3],"format":".1f"}},"y":{"datum":800,"type":"quantitative","axis":{"title":"cloud top height [m]","values":[800,900,1000,1100,1200],"format":"d"}}}},
{"data":{"name":"xmajor"},"mark":{"type":"tick","orient":"vertical","size":20,"thickness":1.5,"color":"#000","clip":true},
 "encoding":{"x":{"field":"v","type":"quantitative","axis":{"title":"time [h]","values":[12.6,12.7,12.8,12.9,13.0,13.1,13.2,13.3],"format":".1f"}},"y":{"datum":1200,"type":"quantitative","axis":{"title":"cloud top height [m]","values":[800,900,1000,1100,1200],"format":"d"}}}},
{"data":{"name":"xminor"},"mark":{"type":"tick","orient":"vertical","size":10,"thickness":1.5,"color":"#000","clip":true},
 "encoding":{"x":{"field":"v","type":"quantitative","axis":{"title":"time [h]","values":[12.6,12.7,12.8,12.9,13.0,13.1,13.2,13.3],"format":".1f"}},"y":{"datum":800,"type":"quantitative","axis":{"title":"cloud top height [m]","values":[800,900,1000,1100,1200],"format":"d"}}}},
{"data":{"name":"xminor"},"mark":{"type":"tick","orient":"vertical","size":10,"thickness":1.5,"color":"#000","clip":true},
 "encoding":{"x":{"field":"v","type":"quantitative","axis":{"title":"time [h]","values":[12.6,12.7,12.8,12.9,13.0,13.1,13.2,13.3],"format":".1f"}},"y":{"datum":1200,"type":"quantitative","axis":{"title":"cloud top height [m]","values":[800,900,1000,1100,1200],"format":"d"}}}},
{"data":{"name":"ymajor"},"mark":{"type":"tick","orient":"horizontal","size":20,"thickness":1.5,"color":"#000","clip":true},
 "encoding":{"y":{"field":"v","type":"quantitative","axis":{"title":"cloud top height [m]","values":[800,900,1000,1100,1200],"format":"d"}},"x":{"datum":12.6,"type":"quantitative","axis":{"title":"time [h]","values":[12.6,12.7,12.8,12.9,13.0,13.1,13.2,13.3],"format":".1f"}}}},
{"data":{"name":"ymajor"},"mark":{"type":"tick","orient":"horizontal","size":20,"thickness":1.5,"color":"#000","clip":true},
 "encoding":{"y":{"field":"v","type":"quantitative","axis":{"title":"cloud top height [m]","values":[800,900,1000,1100,1200],"format":"d"}},"x":{"datum":13.3,"type":"quantitative","axis":{"title":"time [h]","values":[12.6,12.7,12.8,12.9,13.0,13.1,13.2,13.3],"format":".1f"}}}},
{"data":{"name":"yminor"},"mark":{"type":"tick","orient":"horizontal","size":10,"thickness":1.5,"color":"#000","clip":true},
 "encoding":{"y":{"field":"v","type":"quantitative","axis":{"title":"cloud top height [m]","values":[800,900,1000,1100,1200],"format":"d"}},"x":{"datum":12.6,"type":"quantitative","axis":{"title":"time [h]","values":[12.6,12.7,12.8,12.9,13.0,13.1,13.2,13.3],"format":".1f"}}}},
{"data":{"name":"yminor"},"mark":{"type":"tick","orient":"horizontal","size":10,"thickness":1.5,"color":"#000","clip":true},
 "encoding":{"y":{"field":"v","type":"quantitative","axis":{"title":"cloud top height [m]","values":[800,900,1000,1100,1200],"format":"d"}},"x":{"datum":13.3,"type":"quantitative","axis":{"title":"time [h]","values":[12.6,12.7,12.8,12.9,13.0,13.1,13.2,13.3],"format":".1f"}}}}
]
}
